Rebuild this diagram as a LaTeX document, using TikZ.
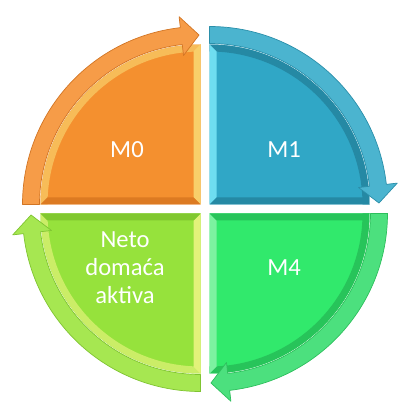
\documentclass[tikz,border=0pt]{standalone}
\usepackage{fontspec}
\setmainfont{Carlito}
\usetikzlibrary{positioning}
\definecolor{orBody}{HTML}{F4902F}
\definecolor{orBand}{HTML}{F69C48}
\definecolor{orLight}{HTML}{F8CF6A}
\definecolor{orDark}{HTML}{DC7A22}
\definecolor{orLine}{HTML}{D27524}
\definecolor{blBody}{HTML}{30A7C6}
\definecolor{blBand}{HTML}{4BB4CF}
\definecolor{blLight}{HTML}{6EDDF0}
\definecolor{blDark}{HTML}{2589A4}
\definecolor{blLine}{HTML}{2A8FAA}
\definecolor{grBody}{HTML}{31E96C}
\definecolor{grBand}{HTML}{4CE07E}
\definecolor{grLight}{HTML}{7CF2A0}
\definecolor{grDark}{HTML}{27C45A}
\definecolor{grLine}{HTML}{2DBF5C}
\definecolor{liBody}{HTML}{96E23C}
\definecolor{liBand}{HTML}{A6E751}
\definecolor{liLight}{HTML}{E2F27A}
\definecolor{liDark}{HTML}{80C82F}
\definecolor{liLine}{HTML}{7FC431}

% quarter with bevel: signs x, y, lowest angle, body, light, dark, arc strip
\newcommand{\quarterbody}[7]{%
\begin{scope}[shift={(#1*4.5,#2*4.5)}]
\fill[#4] (0,0) -- (#3:160) arc[start angle=#3, end angle=#3+90, radius=160] -- cycle;
\fill[#7] (#3:153) arc[start angle=#3, end angle=#3+90, radius=153] -- (#3+90:160) arc[start angle=#3+90, end angle=#3, radius=160] -- cycle;
\fill[#5] (0,0) -- (0,#2*160) -- (#1*7,#2*153) -- (#1*7,#2*7) -- cycle;
\fill[#6] (0,0) -- (#1*160,0) -- (#1*153,#2*7) -- (#1*7,#2*7) -- cycle;
\end{scope}}

% curved arrow on the rim: signs x, y, rotation, fill, line
\newcommand{\rimarrow}[5]{%
\begin{scope}[shift={(#1*4.5,#2*4.5)}, rotate=#3]
\filldraw[fill=#4, draw=#5, bandline] (180:178) arc[start angle=180, end angle=96.5, radius=178]
  -- (96.5:189) -- (90.5:169.5) -- (96.5:150) -- (96.5:161)
  arc[start angle=96.5, end angle=180, radius=161] -- cycle;
\end{scope}}

\begin{document}
\begin{tikzpicture}[x=0.03cm, y=0.03cm,
  bandline/.style={line width=0.6pt, line join=round},
  label/.style={text=white, font=\fontsize{21}{24}\selectfont, align=center}]
\useasboundingbox (-205,-194) rectangle (193,209);
% quarters
\quarterbody{-1}{1}{90}{orBody}{orLight}{orDark}{orLight!70!orBody}
\quarterbody{1}{1}{0}{blBody}{blLight}{blDark}{blDark}
\quarterbody{1}{-1}{-90}{grBody}{grLight}{grDark}{grDark}
\quarterbody{-1}{-1}{180}{liBody}{liLight}{liDark}{liLight!70!liBody}
% arrows
\rimarrow{-1}{1}{0}{orBand}{orLine}
\rimarrow{1}{1}{-90}{blBand}{blLine}
\rimarrow{1}{-1}{-180}{grBand}{grLine}
\rimarrow{-1}{-1}{-270}{liBand}{liLine}
% labels
\node[label] (m0) at (-78,59) {M0};
\node[label] (m1) at (79,59) {M1};
\node[label] (m4) at (79,-59) {M4};
\node[label] (nda) at (-80,-59) {Neto\\domaća\\aktiva};
\end{tikzpicture}
\end{document}
